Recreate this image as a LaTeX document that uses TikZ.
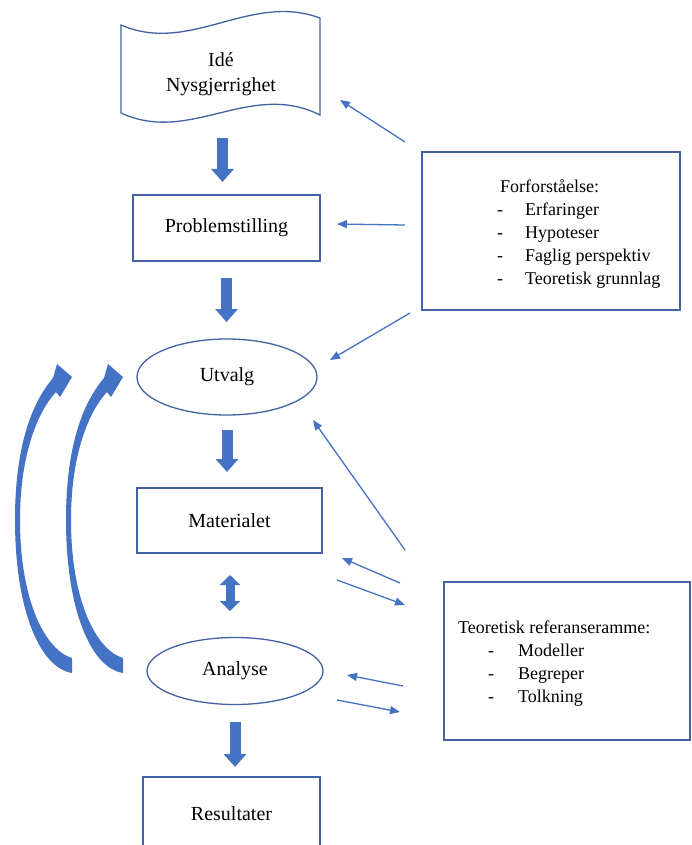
\documentclass[tikz,border=0pt]{standalone}
\usepackage{fontspec}
\setmainfont{Liberation Serif}
\usetikzlibrary{arrows.meta,shapes.geometric}
\definecolor{officeblue}{RGB}{68,114,196}
\definecolor{frameblue}{RGB}{66,98,165}

\begin{document}
\begin{tikzpicture}[x=1pt,y=-1pt]
	\tikzstyle{blueline}=[draw=frameblue,line width=1.3pt]
	\tikzstyle{stepbox}=[blueline,shape=rectangle,font=\fontsize{20}{24}\selectfont]
	\tikzstyle{phase}=[blueline,shape=ellipse,inner sep=0pt,font=\fontsize{20}{24}\selectfont]
	\tikzstyle{listtext}=[inner sep=0pt,align=left,anchor=north west,font=\fontsize{18}{23}\selectfont]
	\tikzstyle{hint}=[draw=officeblue,line width=1.3pt,-{Triangle[length=10pt,width=8pt]}]
	\tikzstyle{fat}=[draw=officeblue,line width=11pt,-{Triangle[length=13pt,width=22pt]}]
	
	\useasboundingbox (0,0) rectangle (691,845);
	\clip (0,0) rectangle (691,845);
	
	% banner
	\draw[blueline] (121,25) .. controls (190,55) and (250,-8) .. (320,18) -- (320,115)
		.. controls (250,80) and (190,145) .. (121,113) -- cycle;
	\node[align=center,font=\fontsize{20}{25}\selectfont] (idea) at (221,74) {Idé\\Nysgjerrighet};
	
	\node[stepbox,minimum width=187pt,minimum height=66pt](problem) at (226.5,228){Problemstilling};
	\node[phase,minimum width=180pt,minimum height=76pt](utvalg) at (227,377){Utvalg};
	\node[stepbox,minimum width=185pt,minimum height=65pt](material) at (229.5,520.5){Materialet};
	\node[phase,minimum width=176pt,minimum height=67pt](analyse) at (235,671){Analyse};
	\node[stepbox,minimum width=177pt,minimum height=74pt](result) at (231.5,814){Resultater};
	
	\node[blueline,minimum width=258pt,minimum height=158pt](forbox) at (551,231){};
	\node[listtext](fortext) at (497,179.5){\hspace*{3pt}Forforståelse:\\
		\makebox[28pt][l]{-}Erfaringer\\
		\makebox[28pt][l]{-}Hypoteser\\
		\makebox[28pt][l]{-}Faglig perspektiv\\
		\makebox[28pt][l]{-}Teoretisk grunnlag};
	
	\node[blueline,minimum width=246pt,minimum height=158pt](refbox) at (567,661){};
	\node[listtext](reftext) at (458,620.5){Teoretisk referanseramme:\\
		\hspace*{30pt}\makebox[30pt][l]{-}Modeller\\
		\hspace*{30pt}\makebox[30pt][l]{-}Begreper\\
		\hspace*{30pt}\makebox[30pt][l]{-}Tolkning};
	
	% block arrows
	\coordinate (a1) at (222.5,138);
	\coordinate (b1) at (222.5,182);
	\coordinate (a2) at (226.5,278);
	\coordinate (b2) at (226.5,322);
	\coordinate (a3) at (227,430);
	\coordinate (b3) at (227,472);
	\coordinate (a4) at (235,722);
	\coordinate (b4) at (235,767);
	\draw[fat] (a1) -- (b1);
	\draw[fat] (a2) -- (b2);
	\draw[fat] (a3) -- (b3);
	\draw[fat] (a4) -- (b4);
	\coordinate (d1) at (230,575);
	\coordinate (d2) at (230,611);
	\draw[officeblue,line width=9pt,{Triangle[length=10pt,width=20pt]}-{Triangle[length=10pt,width=20pt]}] (d1) -- (d2);
	
	% thin arrows
	\coordinate (f1) at (405,142);
	\coordinate (g1) at (340,100);
	\coordinate (f2) at (405,225);
	\coordinate (g2) at (337,224);
	\coordinate (f3) at (410,313);
	\coordinate (g3) at (330,360);
	\coordinate (r1) at (405,550);
	\coordinate (s1) at (313,420);
	\coordinate (r2) at (400,583);
	\coordinate (s2) at (342,558);
	\coordinate (r3) at (337,580);
	\coordinate (s3) at (405,605);
	\coordinate (r4) at (403,686);
	\coordinate (s4) at (347,675);
	\coordinate (r5) at (337,700);
	\coordinate (s5) at (400,712);
	\draw[hint] (f1) -- (g1);
	\draw[hint] (f2) -- (g2);
	\draw[hint] (f3) -- (g3);
	\draw[hint] (r1) -- (s1);
	\draw[hint] (r2) -- (s2);
	\draw[hint] (r3) -- (s3);
	\draw[hint] (r4) -- (s4);
	\draw[hint] (r5) -- (s5);
	
	% curved arrows back to Utvalg
	\foreach \dx in {0,51}{
		\fill[officeblue,xshift=\dx] (72,673) .. controls (40,668) and (15,610) .. (15,520)
			.. controls (15,450) and (30,405) .. (53,378) -- (57,364) -- (72,377) -- (60,397) -- (56,392)
			.. controls (35,415) and (20,460) .. (20,520) .. controls (20,600) and (45,650) .. (72,658) -- cycle;
	}
	
\end{tikzpicture}
\end{document}
